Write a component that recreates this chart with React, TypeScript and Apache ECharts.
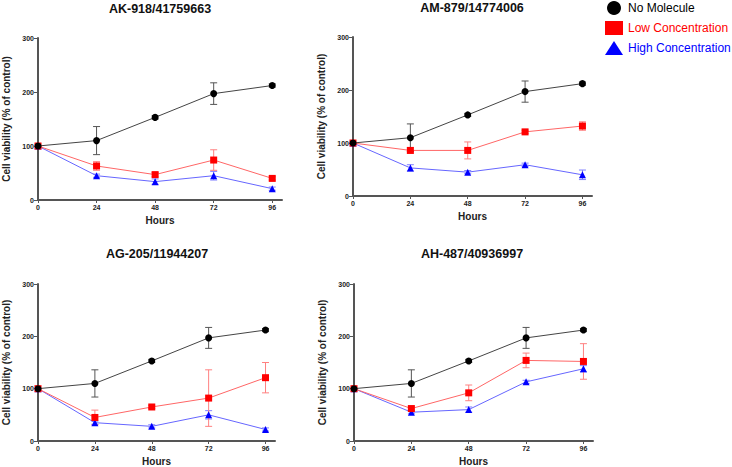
import React, { useEffect, useRef } from "react";
import * as echarts from "echarts";

const hours = [0, 24, 48, 72, 96];
const hourTicks = [0, 24, 48, 72, 96];
const panelTitles = ["AK-918/41759663", "AM-879/14774006", "AG-205/11944207", "AH-487/40936997"];
const seriesNames = ["No Molecule", "Low Concentration", "High Concentration"];

const noMolecule = [100, 110, 153, 197, 212];
const noMoleculeErr = [0, 26, 3, 20, 3];

const lowP1 = [100, 63, 47, 74, 40];
const lowP1Err = [0, 8, 4, 19, 3];
const highP1 = [100, 45, 34, 45, 21];
const highP1Err = [0, 3, 5, 8, 3];

const lowP2 = [100, 86, 86, 121, 132];
const lowP2Err = [0, 5, 16, 3, 8];
const highP2 = [100, 53, 45, 59, 40];
const highP2Err = [0, 6, 3, 3, 9];

const lowP3 = [100, 45, 65, 82, 121];
const lowP3Err = [0, 14, 3, 54, 29];
const highP3 = [100, 35, 28, 50, 22];
const highP3Err = [0, 3, 3, 8, 3];

const lowP4 = [100, 62, 92, 154, 152];
const lowP4Err = [0, 3, 15, 14, 34];
const highP4 = [100, 55, 60, 113, 138];
const highP4Err = [0, 3, 5, 3, 6];

const panels = [
  { low: lowP1, lowErr: lowP1Err, high: highP1, highErr: highP1Err },
  { low: lowP2, lowErr: lowP2Err, high: highP2, highErr: highP2Err },
  { low: lowP3, lowErr: lowP3Err, high: highP3, highErr: highP3Err },
  { low: lowP4, lowErr: lowP4Err, high: highP4, highErr: highP4Err },
];

const FONT = "Liberation Sans, Arial, sans-serif";

export default function App() {
  const ref = useRef<HTMLDivElement>(null);
  useEffect(() => {
    if (!ref.current) return;
    const chart = echarts.init(ref.current, undefined, { renderer: "svg" });

    const grids = [
      { left: 37, top: 38, width: 245, height: 162 },
      { left: 353, top: 37, width: 239, height: 159 },
      { left: 37, top: 284, width: 238, height: 159 },
      { left: 354, top: 284, width: 239, height: 160 },
    ];
    const titleCenters = [
      [160, 2],
      [472, 1],
      [157, 247],
      [472, 247],
    ];

    const styles = [
      { name: seriesNames[0], symbol: "circle", size: 7, color: "#000000", line: "#444444", err: "#555555" },
      { name: seriesNames[1], symbol: "rect", size: 7, color: "#ff0000", line: "#ff6666", err: "#ff8080" },
      { name: seriesNames[2], symbol: "triangle", size: 7, color: "#0000ff", line: "#6666ff", err: "#8080ff" },
    ];

    const series: any[] = [];
    panels.forEach((p, i) => {
      const sets = [
        { vals: noMolecule, errs: noMoleculeErr, st: styles[0], z: 5 },
        { vals: p.low, errs: p.lowErr, st: styles[1], z: 4 },
        { vals: p.high, errs: p.highErr, st: styles[2], z: 3 },
      ];
      sets.forEach((s) => {
        series.push({
          type: "custom",
          name: s.st.name,
          xAxisIndex: i,
          yAxisIndex: i,
          z: s.z - 1,
          silent: true,
          data: hours.map((h, k) => [h, s.vals[k], s.errs[k]]).filter((d) => d[2] > 0),
          renderItem: (params: any, api: any) => {
            const x = api.value(0);
            const y = api.value(1);
            const e = api.value(2);
            const top = api.coord([x, y + e]);
            const bot = api.coord([x, y - e]);
            const hw = 3.5;
            const st = { stroke: s.st.err, lineWidth: 1 };
            return {
              type: "group",
              children: [
                { type: "line", shape: { x1: top[0], y1: top[1], x2: bot[0], y2: bot[1] }, style: st },
                { type: "line", shape: { x1: top[0] - hw, y1: top[1], x2: top[0] + hw, y2: top[1] }, style: st },
                { type: "line", shape: { x1: bot[0] - hw, y1: bot[1], x2: bot[0] + hw, y2: bot[1] }, style: st },
              ],
            };
          },
        });
        series.push({
          type: "line",
          name: s.st.name,
          xAxisIndex: i,
          yAxisIndex: i,
          z: s.z,
          data: hours.map((h, k) => [h, s.vals[k]]),
          symbol: s.st.symbol,
          symbolSize: s.st.size,
          itemStyle: { color: s.st.color },
          lineStyle: { color: s.st.line, width: 1 },
        });
      });
    });

    const axisLine = { show: true, lineStyle: { color: "#555555", width: 2 } };

    chart.setOption({
      animation: false,
      backgroundColor: "#ffffff",
      textStyle: { fontFamily: FONT },
      title: panelTitles.map((t, i) => ({
        text: t,
        left: titleCenters[i][0],
        top: titleCenters[i][1],
        textAlign: "center",
        padding: 0,
        textStyle: { fontFamily: FONT, fontSize: 12.5, fontWeight: "bold", color: "#111111" },
      })),
      legend: {
        orient: "vertical",
        left: 605,
        top: 1,
        padding: 0,
        itemWidth: 18,
        itemHeight: 14,
        itemGap: 6,
        selectedMode: false,
        data: [
          { name: seriesNames[0], icon: "circle", itemStyle: { color: "#000000" }, textStyle: { color: "#000000" } },
          { name: seriesNames[1], icon: "rect", itemStyle: { color: "#ff0000" }, textStyle: { color: "#ff0000" } },
          { name: seriesNames[2], icon: "triangle", itemStyle: { color: "#0000ff" }, textStyle: { color: "#0000ff" } },
        ],
        textStyle: { fontFamily: FONT, fontSize: 12 },
      },
      grid: grids.map((g) => ({ ...g, containLabel: false })),
      xAxis: grids.map((_, i) => ({
        type: "value",
        gridIndex: i,
        min: 0,
        max: 100,
        name: "Hours",
        nameLocation: "middle",
        nameGap: 15,
        nameTextStyle: { fontFamily: FONT, fontSize: 10, fontWeight: "bold", color: "#222222" },
        axisLine,
        splitLine: { show: false },
        axisTick: { show: true, length: 3, customValues: hourTicks, lineStyle: { color: "#555555" } },
        axisLabel: {
          customValues: hourTicks,
          fontFamily: FONT,
          fontSize: 7,
          fontWeight: "bold",
          color: "#222222",
          margin: 4,
        },
      })),
      yAxis: grids.map((_, i) => ({
        type: "value",
        gridIndex: i,
        min: 0,
        max: 300,
        interval: 100,
        name: "Cell viability (% of control)",
        nameLocation: "middle",
        nameGap: 27,
        nameTextStyle: { fontFamily: FONT, fontSize: 10, fontWeight: "bold", color: "#222222" },
        axisLine,
        splitLine: { show: false },
        axisTick: { show: true, length: 4, lineStyle: { color: "#555555" } },
        axisLabel: {
          fontFamily: FONT,
          fontSize: 7,
          fontWeight: "bold",
          color: "#222222",
          margin: 4,
        },
      })),
      series,
    });
    return () => chart.dispose();
  }, []);
  return (
    <div
      ref={ref}
      style={{ position: "fixed", left: 0, top: 0, width: 732, height: 467, background: "#fff" }}
    />
  );
}
